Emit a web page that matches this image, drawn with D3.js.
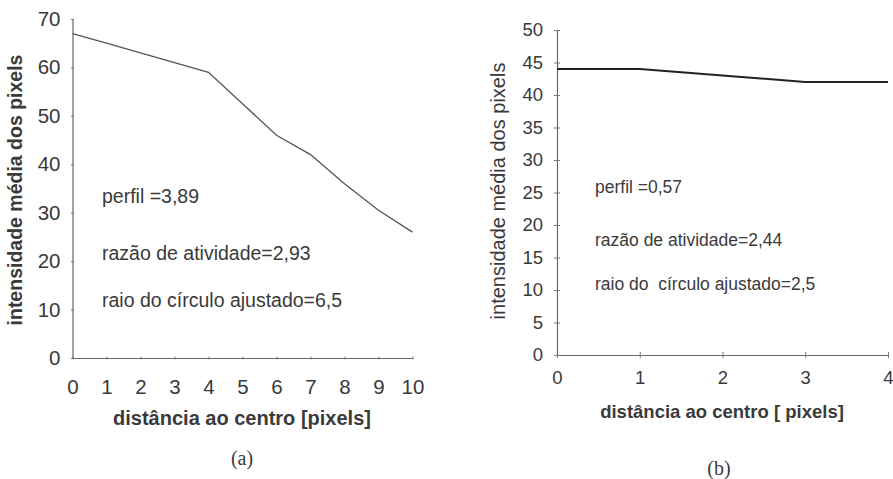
<!DOCTYPE html>
<html>
<head>
<meta charset="utf-8">
<script src="https://cdn.jsdelivr.net/npm/d3@7"></script>
<style>
  body { margin: 0; background: white; }
  text { font-family: "Liberation Sans", Arial, sans-serif; fill: #3a3a3a; }
</style>
</head>
<body>
<div id="chart"></div>
<script>
// painel (a)
const distA = [0, 1, 2, 3, 4, 5, 6, 7, 8, 9, 10];
const intensA = [67, 65, 63, 61, 59, 52.5, 46, 42, 36, 30.5, 26];
const yTicksA = [0, 10, 20, 30, 40, 50, 60, 70];
const notesA = ["perfil =3,89", "razão de atividade=2,93", "raio do círculo ajustado=6,5"];

// painel (b)
const distB = [0, 1, 2, 3, 4];
const intensB = [44, 44, 43, 42, 42];
const yTicksB = [0, 5, 10, 15, 20, 25, 30, 35, 40, 45, 50];
const notesB = ["perfil =0,57", "razão de atividade=2,44", "raio do  círculo ajustado=2,5"];

const yTitle = "intensidade média dos pixels";

const svg = d3.select("#chart")
  .append("svg")
  .attr("width", 893)
  .attr("height", 479)
  .style("background", "white");

function drawPanel(opt) {
  const x = d3.scaleLinear().domain(opt.xDomain).range(opt.xRange);
  const y = d3.scaleLinear().domain(opt.yDomain).range(opt.yRange);
  const g = svg.append("g");

  const xAxis = g.append("g")
    .attr("transform", `translate(0,${opt.yRange[0]})`)
    .call(d3.axisBottom(x).tickValues(opt.dist).tickFormat(d3.format("d"))
      .tickSize(0).tickPadding(opt.xPad));
  xAxis.selectAll(".tick line").remove();
  xAxis.selectAll(".tick").append("line")
    .attr("y1", -opt.tick).attr("y2", opt.tick).attr("stroke", "#777");

  const yAxis = g.append("g")
    .attr("transform", `translate(${opt.xRange[0]},0)`)
    .call(d3.axisLeft(y).tickValues(opt.yTicks).tickSize(0).tickPadding(opt.yPad));
  yAxis.selectAll(".tick line").remove();
  yAxis.selectAll(".tick").append("line")
    .attr("x1", -opt.tick).attr("x2", opt.tick).attr("stroke", "#777");

  g.selectAll(".domain").attr("stroke", "#666").attr("stroke-width", 1.2);
  g.selectAll(".tick text")
    .attr("font-size", opt.tickFont + "px")
    .attr("font-family", "Liberation Sans, Arial, sans-serif")
    .attr("fill", "#444");

  const line = d3.line().x((d, i) => x(opt.dist[i])).y(d => y(d));
  g.append("path")
    .datum(opt.values)
    .attr("fill", "none")
    .attr("stroke", opt.lineColor)
    .attr("stroke-width", opt.lineWidth)
    .attr("d", line);

  g.append("text")
    .attr("transform", `translate(${opt.yTitleX},${opt.yTitleY}) rotate(-90)`)
    .attr("text-anchor", "middle")
    .attr("dominant-baseline", "middle")
    .attr("font-size", opt.yTitleFont + "px")
    .attr("font-weight", opt.yTitleWeight)
    .text(yTitle);

  g.append("text")
    .attr("x", opt.xTitleX)
    .attr("y", opt.xTitleY)
    .attr("text-anchor", "middle")
    .attr("dominant-baseline", "middle")
    .attr("font-size", opt.xTitleFont + "px")
    .attr("font-weight", "bold")
    .text(opt.xTitle);

  g.selectAll(".note")
    .data(opt.notes)
    .enter()
    .append("text")
      .attr("x", opt.noteX)
      .attr("y", (d, i) => opt.noteY[i])
      .attr("dominant-baseline", "middle")
      .attr("font-size", opt.noteFont + "px")
      .style("white-space", "pre")
      .text(d => d);

  g.append("text")
    .attr("x", opt.capX)
    .attr("y", opt.capY)
    .attr("text-anchor", "middle")
    .attr("dominant-baseline", "middle")
    .attr("font-size", "20px")
    .style("font-family", "Liberation Serif, Times New Roman, serif")
    .text(opt.caption);
}

drawPanel({
  dist: distA, values: intensA, yTicks: yTicksA, notes: notesA,
  xDomain: [0, 10], xRange: [72.5, 412.5],
  yDomain: [0, 70], yRange: [358, 19],
  xPad: 21, yPad: 12, tick: 1.5, tickFont: 20.5,
  lineColor: "#555", lineWidth: 1.3,
  yTitleX: 17, yTitleY: 190, yTitleWeight: "bold", yTitleFont: 19.5,
  xTitle: "distância ao centro [pixels]", xTitleX: 242, xTitleY: 420, xTitleFont: 20,
  noteX: 102, noteY: [198, 255, 302], noteFont: 19.5,
  caption: "(a)", capX: 242, capY: 460
});

drawPanel({
  dist: distB, values: intensB, yTicks: yTicksB, notes: notesB,
  xDomain: [0, 4], xRange: [557, 888],
  yDomain: [0, 50], yRange: [355, 30],
  xPad: 16, yPad: 14, tick: 3, tickFont: 18.5,
  lineColor: "#222", lineWidth: 2,
  yTitleX: 500, yTitleY: 191, yTitleWeight: "normal", yTitleFont: 20,
  xTitle: "distância ao centro [ pixels]", xTitleX: 722, xTitleY: 413, xTitleFont: 18.5,
  noteX: 595, noteY: [188, 241, 285], noteFont: 17.5,
  caption: "(b)", capX: 719, capY: 470
});
</script>
</body>
</html>
